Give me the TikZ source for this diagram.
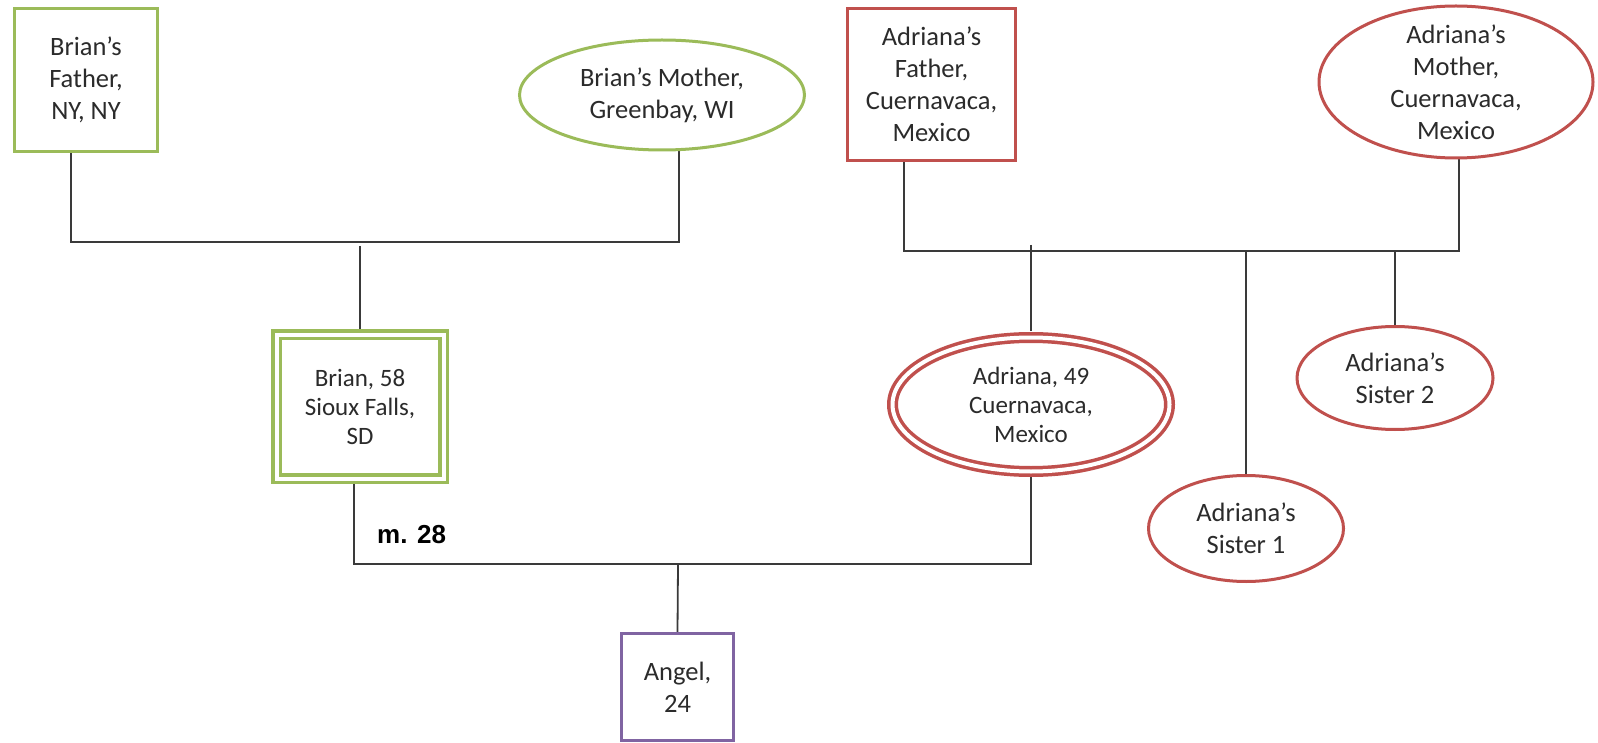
\documentclass[tikz,border=0pt]{standalone}
\usepackage{fontspec}
\setmainfont{Carlito}
\newfontfamily\marrfont{Liberation Sans}
\usetikzlibrary{shapes.geometric,backgrounds}

\definecolor{famgreen}{HTML}{9BBB59}
\definecolor{famred}{HTML}{C0504D}
\definecolor{fampurple}{HTML}{8064A2}
\definecolor{inkgray}{HTML}{2B2B2B}
\definecolor{wiregray}{HTML}{3A3A3A}

\tikzset{
  person/.style={inner sep=0pt, align=center, text=inkgray, fill=white,
                 font=\fontsize{26.5}{32}\selectfont},
  malebox/.style={person, rectangle, line width=3pt},
  femaleoval/.style={person, ellipse, line width=3pt},
  selfline/.style={font=\fontsize{25}{29}\selectfont, line width=3.5pt,
                   double=white, double distance=4pt},
  wire/.style={draw=wiregray, line width=1.8pt},
}

\begin{document}
\begin{tikzpicture}[x=1pt, y=-1pt]
  \useasboundingbox (0,0) rectangle (1598,743);

  % Brian's side
  \node[malebox, draw=famgreen, minimum width=143pt, minimum height=143pt]
    (bf) at (86,80) {Brian’s\\Father,\\NY, NY};
  \node[femaleoval, draw=famgreen, minimum width=285pt, minimum height=110pt]
    (bm) at (662,95) {Brian’s Mother,\\Greenbay, WI};
  \node[malebox, selfline, draw=famgreen, minimum width=167pt, minimum height=144pt]
    (brian) at (360,406.5) {Brian, 58\\Sioux Falls,\\SD};

  % Adriana's side
  \node[malebox, draw=famred, minimum width=168pt, minimum height=152pt]
    (af) at (931.5,84.5) {Adriana’s\\Father,\\Cuernavaca,\\Mexico};
  \node[femaleoval, draw=famred, minimum width=274pt, minimum height=152pt,
        inner sep=-14pt]
    (am) at (1456,82) {Adriana’s\\Mother,\\Cuernavaca,\\Mexico};
  \node[femaleoval, selfline, draw=famred, minimum width=277pt, minimum height=134pt]
    (adr) at (1031,404.5) {Adriana, 49\\Cuernavaca,\\Mexico};
  \node[femaleoval, draw=famred, minimum width=195pt, minimum height=106pt]
    (s1) at (1246,528.5) {Adriana’s\\Sister 1};
  \node[femaleoval, draw=famred, minimum width=196pt, minimum height=103pt]
    (s2) at (1395,378) {Adriana’s\\Sister 2};

  % Child
  \node[malebox, draw=fampurple, minimum width=112pt, minimum height=107pt]
    (angel) at (677.5,687) {Angel,\\24};

  % Marriage label
  \node[anchor=base west, inner sep=0pt, text=black,
        font=\marrfont\bfseries\fontsize{26}{30}\selectfont]
    (mlabel) at (377,543) {m. 28};

  % Junction points of the family lines
  \coordinate (bbar) at (360,242);
  \coordinate (abar) at (1246,251);
  \coordinate (mbar) at (678,564);

  \begin{scope}[on background layer]
    \fill[white] (0,0) rectangle (1598,743);
    % Brian's parents
    \draw[wire] ([xshift=-15pt]bf.south) |- (bbar) -| ([xshift=17pt]bm.south);
    \draw[wire] ([yshift=-4pt]bbar) -- (brian.north);
    % Adriana's parents and their children
    \draw[wire] ([xshift=-27.5pt]af.south) |- (abar) -| ([xshift=3pt]am.south);
    \draw[wire] (adr.north |- abar) ++(0,-6) -- ([yshift=5pt]adr.north);
    \draw[wire] (abar) -- (s1.north);
    \draw[wire] (s2.north |- abar) -- (s2.north);
    % Marriage and child
    \draw[wire] ([xshift=-6pt]brian.south) |- (mbar) -| (adr.south);
    \draw[wire] (mbar) -- (angel.north);
  \end{scope}
\end{tikzpicture}
\end{document}
